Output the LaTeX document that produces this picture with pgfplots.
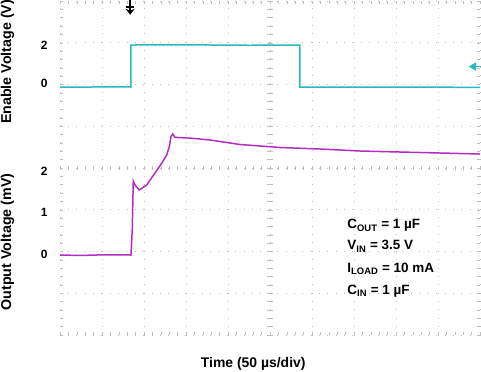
\documentclass[border=0pt]{standalone}
\usepackage{fontspec}
\setmainfont{Liberation Sans}
\usepackage{pgfplots}
\pgfplotsset{compat=1.18}
\usetikzlibrary{arrows.meta}
\definecolor{entrace}{RGB}{40,185,190}
\definecolor{outtrace}{RGB}{180,45,195}
\definecolor{gridc}{RGB}{190,190,190}
\begin{document}
\begin{tikzpicture}
\useasboundingbox (0,0) rectangle (481bp,372bp);
\begin{axis}[
  at={(60bp,37bp)}, anchor=south west,
  scale only axis, width=420bp, height=334bp,
  xmin=0, xmax=10, ymin=0, ymax=8,
  clip=false,
  axis line style={draw=none},
  xtick={0,...,10}, ytick={0,...,8},
  xticklabels={}, yticklabels={},
  minor x tick num=4, minor y tick num=4,
  tick align=inside, tick pos=both,
  major tick length=3bp, minor tick length=3bp,
  every tick/.style={gridc, line width=0.5pt},
  grid=major,
  major grid style={gridc, line width=0.9pt, dash pattern=on 0.9pt off 7.5pt, dash phase=0.45pt},
  extra y ticks={6.946,6.036,3.928,2.946,1.940},
  extra y tick labels={2,0,2,1,0},
  extra y tick style={grid=none, major tick length=0pt, tick pos=left,
     yticklabel style={font=\fontsize{12}{14}\selectfont\bfseries, xshift=-9bp}},
]
% center crosshair ticks
\pgfplotsinvokeforeach{0,0.2,...,10}{
  \draw[gridc, line width=0.5pt] (axis cs:#1,3.95) -- (axis cs:#1,4.05);
}
\pgfplotsinvokeforeach{0,0.2,...,8}{
  \draw[gridc, line width=0.5pt] (axis cs:4.94,#1) -- (axis cs:5.06,#1);
}
% Enable trace
\addplot[entrace, line width=1.5pt, mark=none] coordinates {
(0,5.94) (0.5,5.935) (1.0,5.945) (1.69,5.94) (1.69,6.946) (3.0,6.95) (4.5,6.94) (5.714,6.946)
(5.714,5.94) (7.0,5.935) (8.5,5.94) (10,5.93)
};
% Output trace
\addplot[outtrace, line width=1.5pt, mark=none] coordinates {
(0,1.916) (0.5,1.905) (1.0,1.92) (1.69,1.916) (1.72,2.515) (1.745,3.689) (1.786,3.593)
(1.888,3.473) (2.064,3.593) (2.262,3.880) (2.421,4.113) (2.540,4.311) (2.602,4.510)
(2.643,4.750) (2.683,4.814) (2.738,4.735) (3.167,4.711) (3.571,4.671) (4.286,4.563)
(5.238,4.491) (6.190,4.455) (7.143,4.407) (8.095,4.383) (9.048,4.359) (10,4.335)
};
% trigger marker
\addplot[black, line width=1.3pt, -{Stealth[length=6bp,width=9bp]}] coordinates {(1.67,8.02) (1.67,7.67)};
\addplot[black, line width=1.3pt] coordinates {(1.58,7.856) (1.76,7.856)};
% level marker
\addplot[entrace, line width=1.5pt] coordinates {(9.88,6.43) (10.02,6.43)};
\addplot[entrace, mark=triangle*, mark size=4.5bp, mark options={rotate=90}, only marks] coordinates {(9.85,6.43)};
% labels
\node[rotate=90, anchor=center, font=\fontsize{14.3}{16}\selectfont\bfseries] at (axis cs:-1.25,6.54) {Enable Voltage (V)};
\node[rotate=90, anchor=center, font=\fontsize{14.3}{16}\selectfont\bfseries] at (axis cs:-1.25,2.228) {Output Voltage (mV)};
\node[anchor=base, font=\fontsize{14}{16}\selectfont\bfseries] at (axis cs:4.6,-0.783) {Time (50 µs/div)};
\node[anchor=base west, font=\fontsize{13.5}{16}\selectfont\bfseries] at (axis cs:6.76,2.539) {C\textsubscript{OUT} = 1 µF};
\node[anchor=base west, font=\fontsize{13.5}{16}\selectfont\bfseries] at (axis cs:6.76,2.036) {V\textsubscript{IN} = 3.5 V};
\node[anchor=base west, font=\fontsize{13.5}{16}\selectfont\bfseries] at (axis cs:6.76,1.492) {I\textsubscript{LOAD} = 10 mA};
\node[anchor=base west, font=\fontsize{13.5}{16}\selectfont\bfseries] at (axis cs:6.76,0.978) {C\textsubscript{IN} = 1 µF};
\end{axis}
\end{tikzpicture}
\end{document}
